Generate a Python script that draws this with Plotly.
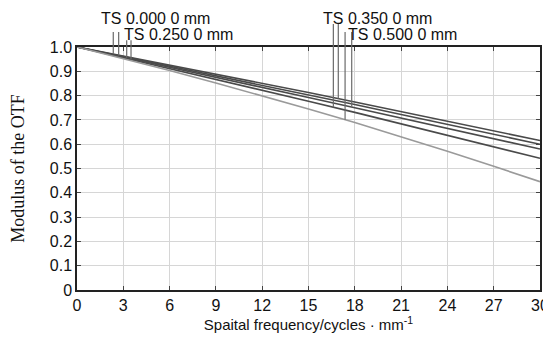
import numpy as np
import plotly.graph_objects as go

# Spatial frequency (cycles/mm)
freq = [0, 3, 6, 9, 12, 15, 18, 21, 24, 27, 30]

# MTF curves
mtf_a = [1.0, 0.963, 0.926, 0.889, 0.851, 0.813, 0.774, 0.735, 0.695, 0.655, 0.615]
mtf_b = [1.0, 0.961, 0.922, 0.882, 0.843, 0.803, 0.763, 0.722, 0.682, 0.641, 0.600]
mtf_c = [1.0, 0.959, 0.917, 0.876, 0.834, 0.792, 0.750, 0.708, 0.665, 0.623, 0.580]
mtf_d = [1.0, 0.956, 0.912, 0.867, 0.822, 0.777, 0.731, 0.684, 0.637, 0.590, 0.542]
mtf_e = [1.0, 0.952, 0.903, 0.852, 0.799, 0.745, 0.689, 0.631, 0.571, 0.509, 0.446]

curves = [mtf_a, mtf_b, mtf_c, mtf_d, mtf_e]
curve_colors = ["#4a4a4a", "#4a4a4a", "#4a4a4a", "#4a4a4a", "#9a9a9a"]

# Field labels and leader lines
field_labels = ["TS 0.000 0 mm", "TS 0.250 0 mm", "TS 0.350 0 mm", "TS 0.500 0 mm"]
label_x = [0.048, 0.097, 0.527, 0.581]      # paper
label_y = [1.118, 1.052, 1.118, 1.052]      # paper
leader_freq = [[2.35, 2.70], [3.22, 3.50], [16.61, 16.93], [17.37, 17.80]]
leader_curve = [[0, 1], [2, 3], [3, 0], [4, 2]]
leader_top = [1.062, 1.028, 1.095, 1.062]   # paper

x_ticks = [0, 3, 6, 9, 12, 15, 18, 21, 24, 27, 30]
y_ticks = [0, 0.1, 0.2, 0.3, 0.4, 0.5, 0.6, 0.7, 0.8, 0.9, 1.0]
y_ticktext = ["0", "0.1", "0.2", "0.3", "0.4", "0.5", "0.6", "0.7", "0.8", "0.9", "1.0"]

fig = go.Figure()
for vals, col in zip(curves, curve_colors):
    fig.add_trace(go.Scatter(x=freq, y=vals, mode="lines",
                             line=dict(color=col, width=1.6),
                             showlegend=False, hoverinfo="skip"))

shapes = []
annotations = []
for i, lab in enumerate(field_labels):
    annotations.append(dict(text=lab, x=label_x[i], y=label_y[i], xref="paper", yref="paper",
                            xanchor="left", yanchor="middle", showarrow=False,
                            font=dict(family="Liberation Sans, Arial", size=16, color="#111")))
    for f, ci in zip(leader_freq[i], leader_curve[i]):
        yb = float(np.interp(f, freq, curves[ci]))
        shapes.append(dict(type="line", xref="x", yref="paper", x0=f, x1=f,
                           y0=yb, y1=leader_top[i],
                           line=dict(color="#6a6a6a", width=1.2)))

# the page adds an 8 px body margin, so the figure is sized to fit the window
fig.update_layout(
    width=543, height=336,
    margin=dict(l=69, r=11, t=39, b=54),
    paper_bgcolor="white", plot_bgcolor="white",
    shapes=shapes, annotations=annotations,
    font=dict(family="Liberation Sans, Arial", size=15, color="#111"),
)
fig.update_xaxes(range=[0, 30], tickvals=x_ticks, ticks="inside", ticklen=4,
                 showline=True, linecolor="#222", linewidth=1.5, mirror="ticks",
                 showgrid=True, gridcolor="#d6d6d6", gridwidth=1, zeroline=False,
                 tickfont=dict(size=16), automargin=False,
                 title=dict(text="Spaital frequency/cycles · mm<sup>-1</sup>",
                            font=dict(size=15), standoff=6))
fig.update_yaxes(range=[0, 1], tickvals=y_ticks, ticktext=y_ticktext, ticks="inside", ticklen=4,
                 showline=True, linecolor="#222", linewidth=1.5, mirror="ticks",
                 showgrid=True, gridcolor="#d6d6d6", gridwidth=1, zeroline=False,
                 tickfont=dict(size=16), automargin=False,
                 title=dict(text="Modulus of the OTF",
                            font=dict(family="Liberation Serif, Times New Roman", size=18),
                            standoff=20))

fig.write_html("out.html")
